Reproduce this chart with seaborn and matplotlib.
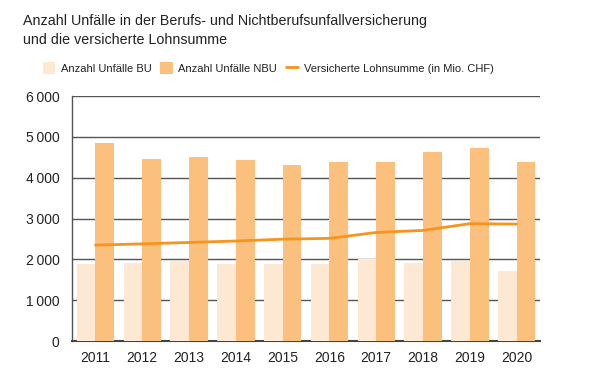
import pandas as pd
import numpy as np
import matplotlib
matplotlib.use("Agg")
import matplotlib.pyplot as plt
import seaborn as sns
from matplotlib.patches import Patch
from matplotlib.lines import Line2D
from matplotlib.ticker import FuncFormatter

years = ["2011", "2012", "2013", "2014", "2015", "2016", "2017", "2018", "2019", "2020"]
unfaelle_bu = [1890, 1910, 1960, 1890, 1890, 1885, 2010, 1910, 1960, 1715]
unfaelle_nbu = [4860, 4465, 4505, 4425, 4310, 4390, 4390, 4630, 4730, 4390]
lohnsumme = [2350, 2380, 2415, 2450, 2495, 2515, 2660, 2710, 2875, 2865]

c_bu = "#fde8d4"
c_nbu = "#fbc07d"
c_line = "#f7941d"

sns.set_style("white")
plt.rcParams['font.family'] = ['Liberation Sans', 'DejaVu Sans']

df = pd.DataFrame({
    "Jahr": years * 2,
    "Anzahl": unfaelle_bu + unfaelle_nbu,
    "Typ": ["Anzahl Unfälle BU"] * len(years) + ["Anzahl Unfälle NBU"] * len(years),
})

fig = plt.figure(figsize=(6.13, 3.8), dpi=100)
ax = fig.add_axes([0.1175, 0.1026, 0.7635, 0.6444])

sns.barplot(data=df, x="Jahr", y="Anzahl", hue="Typ", palette=[c_bu, c_nbu],
            width=0.8, saturation=1, linewidth=0, ax=ax, legend=False, zorder=3)
sns.pointplot(x=years, y=lohnsumme, color=c_line, markers="", linestyles="-",
              ax=ax, zorder=4)
for ln in ax.lines:
    ln.set_linewidth(2)

ax.set_ylim(0, 6000)
ax.set_xlim(-0.5, 9.5)
ax.set_yticks([0, 1000, 2000, 3000, 4000, 5000, 6000])
ax.yaxis.set_major_formatter(FuncFormatter(lambda v, p: f"{int(v):,}".replace(",", "\u2009")))
ax.grid(axis="y", color="#555555", linewidth=1, zorder=0)
ax.set_axisbelow(True)
ax.set_xlabel("")
ax.set_ylabel("")
for s in ["top", "right"]:
    ax.spines[s].set_visible(False)
ax.spines["left"].set_color("#555555")
ax.spines["left"].set_linewidth(1)
ax.spines["bottom"].set_color("#444444")
ax.spines["bottom"].set_linewidth(1.5)
ax.tick_params(axis="both", length=0, labelsize=10, colors="#222222")
ax.tick_params(axis="y", pad=9)
ax.tick_params(axis="x", pad=7)

fig.text(0.0375, 0.962, "Anzahl Unfälle in der Berufs- und Nichtberufsunfallversicherung\nund die versicherte Lohnsumme",
         fontsize=10.3, color="#222222", va="top", ha="left", linespacing=1.4)

handles = [Patch(facecolor=c_bu, edgecolor="none"),
           Patch(facecolor=c_nbu, edgecolor="none"),
           Line2D([0], [0], color=c_line, linewidth=2)]
labels = ["Anzahl Unfälle BU", "Anzahl Unfälle NBU", "Versicherte Lohnsumme (in Mio. CHF)"]
fig.legend(handles, labels, loc="center left", bbox_to_anchor=(0.07, 0.821), ncol=3,
           frameon=False, fontsize=8, handlelength=1.1, handleheight=1.3,
           handletextpad=0.5, columnspacing=0.8, labelcolor="#222222",
           borderaxespad=0, borderpad=0)

fig.savefig("out.png", dpi=100)
